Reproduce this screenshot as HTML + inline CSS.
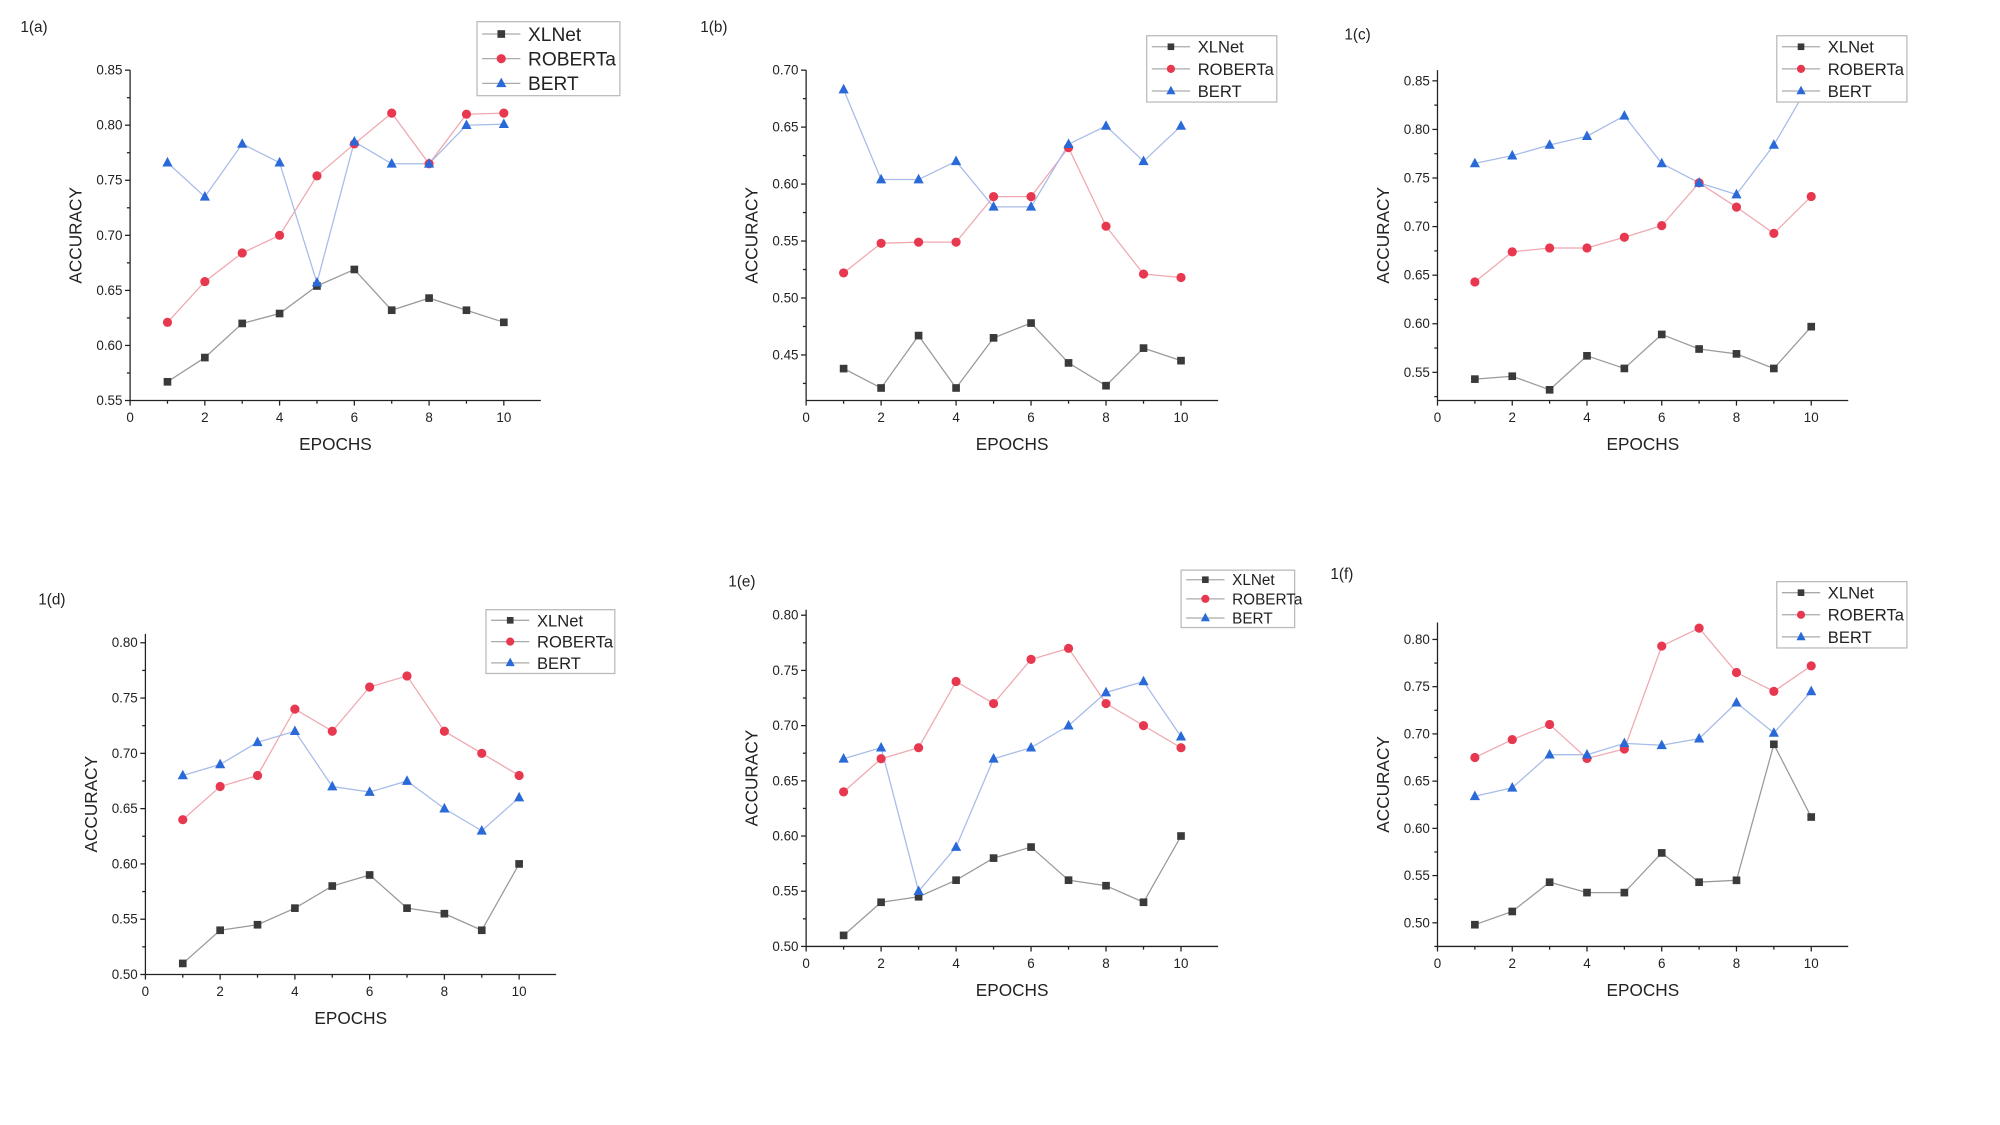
<!DOCTYPE html>
<html><head><meta charset="utf-8"><style>
html,body{margin:0;padding:0;background:#fff;}
svg{display:block;font-family:"Liberation Sans",Arial,sans-serif;}
</style></head>
<body>
<svg id="chart" width="2000" height="1125" viewBox="0 0 1568 882" xmlns="http://www.w3.org/2000/svg"></svg>
<script>
const epochs = [1,2,3,4,5,6,7,8,9,10];
const seriesNames = ["XLNet","ROBERTa","BERT"];
// panel a
const aXLNet = [0.567,0.589,0.620,0.629,0.654,0.669,0.632,0.643,0.632,0.621];
const aRoberta = [0.621,0.658,0.684,0.700,0.754,0.783,0.811,0.765,0.810,0.811];
const aBert = [0.766,0.735,0.783,0.766,0.657,0.785,0.765,0.765,0.800,0.801];
const aTicks = [0.55,0.60,0.65,0.70,0.75,0.80,0.85];
// panel b
const bXLNet = [0.438,0.421,0.467,0.421,0.465,0.478,0.443,0.423,0.456,0.445];
const bRoberta = [0.522,0.548,0.549,0.549,0.589,0.589,0.632,0.563,0.521,0.518];
const bBert = [0.683,0.604,0.604,0.620,0.580,0.580,0.635,0.651,0.620,0.651];
const bTicks = [0.45,0.50,0.55,0.60,0.65,0.70];
// panel c
const cXLNet = [0.543,0.546,0.532,0.567,0.554,0.589,0.574,0.569,0.554,0.597];
const cRoberta = [0.643,0.674,0.678,0.678,0.689,0.701,0.745,0.720,0.693,0.731];
const cBert = [0.765,0.773,0.784,0.793,0.814,0.765,0.745,0.733,0.784,0.850];
const cTicks = [0.55,0.60,0.65,0.70,0.75,0.80,0.85];
// panel d
const dXLNet = [0.51,0.54,0.545,0.56,0.58,0.59,0.56,0.555,0.54,0.60];
const dRoberta = [0.64,0.67,0.68,0.74,0.72,0.76,0.77,0.72,0.70,0.68];
const dBert = [0.68,0.69,0.71,0.72,0.67,0.665,0.675,0.65,0.63,0.66];
const dTicks = [0.50,0.55,0.60,0.65,0.70,0.75,0.80];
// panel e
const eXLNet = [0.51,0.54,0.545,0.56,0.58,0.59,0.56,0.555,0.54,0.60];
const eRoberta = [0.64,0.67,0.68,0.74,0.72,0.76,0.77,0.72,0.70,0.68];
const eBert = [0.67,0.68,0.55,0.59,0.67,0.68,0.70,0.73,0.74,0.69];
const eTicks = [0.50,0.55,0.60,0.65,0.70,0.75,0.80];
// panel f
const fXLNet = [0.498,0.512,0.543,0.532,0.532,0.574,0.543,0.545,0.689,0.612];
const fRoberta = [0.675,0.694,0.710,0.674,0.684,0.793,0.812,0.765,0.745,0.772];
const fBert = [0.634,0.643,0.678,0.678,0.690,0.688,0.695,0.733,0.701,0.745];
const fTicks = [0.50,0.55,0.60,0.65,0.70,0.75,0.80];
const xTicks = [0,2,4,6,8,10];

const panels = [
 {id:"a",label:"1(a)",lx:16,ly:25,L:102,R:424,T:55,B:314,ymin:0.55,ymax:0.85,ticks:aTicks,s:[aXLNet,aRoberta,aBert],leg:[374,17,112,58,15]},
 {id:"b",label:"1(b)",lx:549,ly:25,L:632,R:955,T:55,B:314,ymin:0.41,ymax:0.70,ticks:bTicks,s:[bXLNet,bRoberta,bBert],leg:[899,28,102,52,13]},
 {id:"c",label:"1(c)",lx:1054,ly:31,L:1127,R:1449,T:55,B:314,ymin:0.521,ymax:0.861,ticks:cTicks,s:[cXLNet,cRoberta,cBert],leg:[1393,28,102,52,13]},
 {id:"d",label:"1(d)",lx:30,ly:474,L:114,R:436,T:497,B:764,ymin:0.50,ymax:0.808,ticks:dTicks,s:[dXLNet,dRoberta,dBert],leg:[381,478,101,50,13]},
 {id:"e",label:"1(e)",lx:571,ly:460,L:632,R:955,T:478,B:742,ymin:0.50,ymax:0.805,ticks:eTicks,s:[eXLNet,eRoberta,eBert],leg:[926,447,89,45,12]},
 {id:"f",label:"1(f)",lx:1043,ly:454,L:1127,R:1449,T:488,B:742,ymin:0.475,ymax:0.818,ticks:fTicks,s:[fXLNet,fRoberta,fBert],leg:[1393,456,102,52,13]}
];
const colors = ["#3a3a3a","#e8384f","#2a6ad8"];
const lineCol = ["#9a9a9a","#f0a8b0","#a8bce8"];
const NS="http://www.w3.org/2000/svg";
const svg=document.getElementById("chart");
function mk(tag,attrs,parent){const e=document.createElementNS(NS,tag);for(const k in attrs)e.setAttribute(k,attrs[k]);(parent||svg).appendChild(e);return e;}
function marker(g,i,x,y,sz){
 let m;
 if(i===0){m=mk("rect",{x:x-sz,y:y-sz,width:2*sz,height:2*sz,fill:colors[0]},g);}
 else if(i===1){m=mk("circle",{cx:x,cy:y,r:sz+0.6,fill:colors[1]},g);}
 else {m=mk("polygon",{points:`${x},${y-sz-1.5} ${x-sz-1},${y+sz} ${x+sz+1},${y+sz}`,fill:colors[2]},g);}
 return m;
}
panels.forEach(p=>{
 const g=mk("g",{});
 
 
 const x0=p.L, x10=p.L+(p.R-p.L)*293/322;
 const sx=v=>x0+(x10-x0)*v/10;
 const sy=v=>p.B-(v-p.ymin)/(p.ymax-p.ymin)*(p.B-p.T);
 const lab=mk("text",{x:p.lx,y:p.ly,"font-size":12,fill:"#222"},g);lab.textContent=p.label;
 
 
 const ax=mk("path",{d:`M${p.L},${p.T}V${p.B}H${p.R}`,stroke:"#222","stroke-width":1,fill:"none"},g);
 
 
 // y ticks
 p.ticks.forEach((t,k)=>{
  const y=sy(t);
  mk("line",{x1:p.L-4,x2:p.L,y1:y,y2:y,stroke:"#222","stroke-width":1},g);
  const tx=mk("text",{x:p.L-6,y:y+3.5,"font-size":10.5,"text-anchor":"end",fill:"#222"},g);tx.textContent=t.toFixed(2);
  
  
  const mv=t+0.025;
  if(mv<=p.ymax){const ym=sy(mv);mk("line",{x1:p.L-2.5,x2:p.L,y1:ym,y2:ym,stroke:"#222","stroke-width":1},g);}
  if(k===0){const mb=t-0.025;if(mb>=p.ymin){const ym=sy(mb);mk("line",{x1:p.L-2.5,x2:p.L,y1:ym,y2:ym,stroke:"#222","stroke-width":1},g);}}
 });
 xTicks.forEach(t=>{
  const x=sx(t);
  mk("line",{x1:x,x2:x,y1:p.B,y2:p.B+4,stroke:"#222","stroke-width":1},g);
  const tx=mk("text",{x:x,y:p.B+17,"font-size":10.5,"text-anchor":"middle",fill:"#222"},g);tx.textContent=t;
  
  
  const xm=sx(t+1);if(xm<=p.R)mk("line",{x1:xm,x2:xm,y1:p.B,y2:p.B+2.5,stroke:"#222","stroke-width":1},g);
 });
 const yt=mk("text",{x:0,y:0,"font-size":13.5,"text-anchor":"middle",fill:"#222",transform:`translate(${p.L-38},${(p.T+p.B)/2}) rotate(-90)`},g);yt.textContent="ACCURACY";
 
 
 const xt=mk("text",{x:(p.L+p.R)/2,y:p.B+39,"font-size":13.5,"text-anchor":"middle",fill:"#222"},g);xt.textContent="EPOCHS";
 
 
 p.s.forEach((vals,i)=>{
  const pts=vals.map((v,j)=>sx(epochs[j])+","+sy(v)).join(" ");
  const ln=mk("polyline",{points:pts,fill:"none",stroke:lineCol[i],"stroke-width":1},g);
  
  
 });
 p.s.forEach((vals,i)=>{
  vals.forEach((v,j)=>{
   const m=marker(g,i,sx(epochs[j]),sy(v),3);
   
   
  });
 });
 // legend
 const [lx,ly,lw,lh,fs]=p.leg;
 const lg=mk("g",{},g);
 
 
 mk("rect",{x:lx,y:ly,width:lw,height:lh,fill:"#fff",stroke:"#bbb","stroke-width":1},lg);
 seriesNames.forEach((n,i)=>{
  const yy=ly+lh*(i+0.5)/3;
  mk("line",{x1:lx+4,x2:lx+34,y1:yy,y2:yy,stroke:"#aaa","stroke-width":1},lg);
  const m=marker(lg,i,lx+19,yy,fs>13?3:2.6);
  
  
  const t=mk("text",{x:lx+40,y:yy+fs*0.36,"font-size":fs,fill:"#222"},lg);t.textContent=n;
  
  
 });
});
</script>
</body></html>
